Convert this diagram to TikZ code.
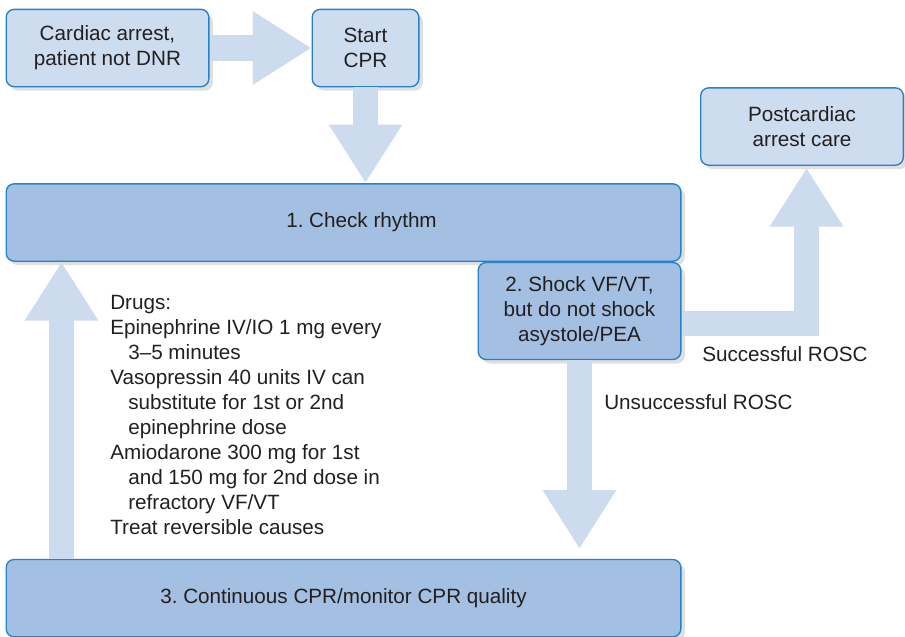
\documentclass[tikz,border=0pt]{standalone}
\usepackage{fontspec}
\setmainfont{Liberation Sans}
\usepackage{tikz}
\usetikzlibrary{arrows.meta, shadows, positioning}

\definecolor{boxfill}{RGB}{205,220,239}
\definecolor{bigfill}{RGB}{163,191,225}
\definecolor{boxline}{RGB}{35,130,200}
\definecolor{arrowfill}{RGB}{204,219,238}
\definecolor{txt}{RGB}{35,31,32}
\frenchspacing

\begin{document}
\begin{tikzpicture}[x=0.75pt, y=-0.75pt]
    \tikzstyle{every node}=[font=\fontsize{15.5}{18.75}\selectfont, text=txt]
    \tikzstyle{box}=[rectangle, rounded corners=6pt, draw=boxline, line width=1pt, fill=boxfill, align=center, inner sep=0pt, drop shadow={shadow xshift=3pt, shadow yshift=-3pt, opacity=0.25}]
    \tikzstyle{smallbox}=[box, minimum width=152pt, minimum height=58pt]
    \tikzstyle{bigbox}=[box, fill=bigfill, minimum width=506pt, minimum height=58pt]
    \tikzstyle{fatarrow}=[draw=arrowfill, line width=19pt, line join=miter, -{Triangle[width=52pt, length=44pt]}]
    \useasboundingbox (0,0) rectangle (905,636);
    \node [smallbox] (arrest) at (107.5,48) {Cardiac arrest,\\patient not DNR};
    \node [smallbox, minimum width=80pt, right=76.5pt of arrest] (cpr) {Start\\CPR};
    \node [smallbox] (post) at (802,126.5) {Postcardiac\\arrest care};
    \node [bigbox] (rhythm) at (343.5,222.5) {\hspace*{27pt}1. Check rhythm};
    \node [box, fill=bigfill, minimum width=152pt, minimum height=72.75pt, anchor=north east] (shock) at (rhythm.south east) {2. Shock VF/VT,\\but do not shock\\asystole/PEA};
    \node [bigbox, below=222.75pt of rhythm] (cont) {3. Continuous CPR/monitor CPR quality};
    \node [anchor=north west, align=left, inner sep=0pt] (drugs) at (110,295) {Drugs:\\Epinephrine IV/IO 1 mg every\\\hspace*{13.5pt}3--5 minutes\\Vasopressin 40 units IV can\\\hspace*{13.5pt}substitute for 1st or 2nd\\\hspace*{13.5pt}epinephrine dose\\Amiodarone 300 mg for 1st\\\hspace*{13.5pt}and 150 mg for 2nd dose in\\\hspace*{13.5pt}refractory VF/VT\\Treat reversible causes};
    \node [anchor=west, inner sep=0pt] (success) at (702,354) {Successful ROSC};
    \node [anchor=west, inner sep=0pt] (fail) at (604,402) {Unsuccessful ROSC};
    % connectors
    \draw [fatarrow] (arrest.east) -- (cpr.west);
    \draw [fatarrow] (cpr.south) -- (cpr.south |- rhythm.north);
    \draw [fatarrow, shorten >=1.5pt] ([yshift=-9.4pt]shock.east) -| ([xshift=3.4pt]post.south);
    \draw [fatarrow, shorten >=7.5pt] (shock.south) -- (shock.south |- cont.north);
    \draw [fatarrow] ([xshift=42pt]cont.north west) -- ([xshift=42pt]rhythm.south west);
\end{tikzpicture}
\end{document}
